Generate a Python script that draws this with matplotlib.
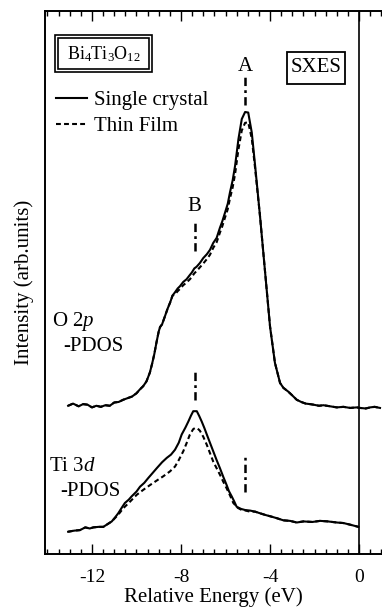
import matplotlib
matplotlib.use("Agg")
import matplotlib.pyplot as plt
from matplotlib.patches import Rectangle
from matplotlib.ticker import MultipleLocator

plt.rcParams['font.family'] = ['Liberation Serif', 'DejaVu Serif']
plt.rcParams['mathtext.fontset'] = 'custom'
plt.rcParams['mathtext.rm'] = 'Liberation Serif'
plt.rcParams['mathtext.it'] = 'Liberation Serif:italic'
plt.rcParams['axes.unicode_minus'] = False
plt.rcParams['lines.scale_dashes'] = False

# O 2p PDOS, single crystal (solid) and thin film (dashed)
o2p_energy = [-13.07, -12.85, -12.6, -12.4, -12.2, -12.0, -11.8, -11.6, -11.4, -11.2,
              -11.0, -10.8, -10.6, -10.4, -10.2, -10.0, -9.85, -9.7, -9.55, -9.4,
              -9.3, -9.2, -9.1, -9.0, -8.94, -8.85, -8.72, -8.6, -8.49, -8.38,
              -8.27, -8.15, -8.05, -7.9, -7.75, -7.6, -7.52, -7.4, -7.3, -7.15,
              -7.0, -6.84, -6.7, -6.55, -6.4, -6.25, -6.15, -6.02, -5.9, -5.8,
              -5.68, -5.57, -5.42, -5.27, -5.12, -4.98, -4.82, -4.67, -4.45, -4.22,
              -4.0, -3.78, -3.55, -3.4, -3.18, -3.0, -2.8, -2.6, -2.4, -2.2,
              -2.05, -1.8, -1.6, -1.3, -1.0, -0.7, -0.4, -0.1, 0.04, 0.3,
              0.5, 0.7, 0.94]
o2p_crystal = [27.3, 27.7, 27.2, 27.6, 27.5, 27.0, 27.3, 27.1, 27.4, 27.3,
               27.9, 28.0, 28.4, 28.7, 29.0, 29.6, 30.3, 30.9, 31.8, 33.4,
               35.0, 36.8, 39.0, 41.0, 41.8, 42.3, 43.8, 45.2, 46.3, 47.6,
               48.2, 48.9, 49.3, 50.1, 50.6, 51.4, 51.8, 52.6, 52.9, 53.6,
               54.5, 55.2, 56.0, 57.3, 58.2, 60.1, 61.2, 62.9, 64.5, 66.6,
               68.8, 71.5, 76.4, 80.1, 81.4, 81.3, 77.6, 71.5, 62.2, 51.8,
               41.9, 35.2, 31.5, 30.6, 29.9, 29.2, 28.4, 28.0, 27.7, 27.6,
               27.5, 27.3, 27.4, 27.2, 27.0, 27.1, 26.9, 27.0, 26.9, 26.8,
               27.0, 27.1, 26.9]
o2p_film = [27.3, 27.7, 27.2, 27.6, 27.5, 27.0, 27.3, 27.1, 27.4, 27.3,
            27.9, 28.0, 28.4, 28.7, 29.0, 29.6, 30.3, 30.9, 31.8, 33.4,
            35.0, 36.8, 39.0, 41.0, 41.8, 42.3, 43.8, 45.2, 46.3, 47.6,
            47.8, 48.4, 48.8, 49.5, 50.0, 50.6, 51.0, 51.7, 52.1, 52.8,
            53.5, 54.3, 55.1, 56.4, 57.4, 59.2, 60.3, 62.0, 63.5, 65.5,
            67.5, 70.0, 74.5, 78.0, 79.4, 79.5, 76.5, 71.0, 62.2, 51.8,
            41.9, 35.2, 31.5, 30.6, 29.9, 29.2, 28.4, 28.0, 27.7, 27.6,
            27.5, 27.3, 27.4, 27.2, 27.0, 27.1, 26.9, 27.0, 26.9, 26.8,
            27.0, 27.1, 26.9]

# Ti 3d PDOS
ti3d_energy = [-13.07, -12.8, -12.54, -12.3, -12.1, -11.94, -11.7, -11.49, -11.3, -11.11,
               -10.95, -10.82, -10.65, -10.52, -10.35, -10.22, -10.0, -9.84, -9.65, -9.47,
               -9.3, -9.09, -8.85, -8.64, -8.45, -8.27, -8.1, -7.97, -7.8, -7.67,
               -7.55, -7.45, -7.29, -7.18, -7.07, -6.95, -6.84, -6.7, -6.55, -6.4,
               -6.25, -6.1, -5.95, -5.85, -5.72, -5.6, -5.5, -5.3, -5.12, -4.9,
               -4.67, -4.45, -4.22, -3.95, -3.7, -3.4, -3.1, -2.8, -2.5, -2.1,
               -1.75, -1.4, -1.0, -0.7, -0.4, -0.03]
ti3d_crystal = [4.1, 4.3, 4.4, 4.9, 4.7, 4.9, 5.0, 5.0, 5.5, 6.0,
                6.8, 7.5, 8.6, 9.4, 10.0, 10.6, 11.5, 12.4, 13.1, 14.0,
                14.8, 15.8, 16.9, 17.7, 18.3, 19.2, 20.5, 22.0, 23.3, 24.4,
                25.5, 26.3, 26.3, 25.4, 24.4, 23.2, 22.0, 20.5, 18.9, 17.3,
                15.8, 14.2, 12.7, 11.6, 10.6, 9.6, 8.7, 8.3, 8.1, 8.0,
                7.8, 7.5, 7.2, 6.9, 6.6, 6.2, 6.1, 5.8, 6.0, 5.9,
                6.1, 6.0, 5.8, 5.7, 5.4, 5.0]
ti3d_film_energy = [-13.07, -12.8, -12.54, -12.3, -12.1, -11.94, -11.7, -11.49, -11.3, -11.11,
                    -10.9, -10.75, -10.6, -10.3, -9.99, -9.7, -9.39, -9.1, -8.8, -8.5,
                    -8.27, -8.1, -7.9, -7.75, -7.6, -7.45, -7.37, -7.25, -7.15, -7.0,
                    -6.84, -6.7, -6.55, -6.4, -6.25, -6.1, -5.95, -5.8, -5.65, -5.45,
                    -5.27, -5.1, -4.9, -4.67, -4.45, -4.22, -3.95, -3.7, -3.4, -3.1,
                    -2.8, -2.5, -2.1, -1.75, -1.4, -1.0, -0.7, -0.4, -0.03]
ti3d_film = [4.1, 4.3, 4.4, 4.9, 4.7, 4.9, 5.0, 5.0, 5.5, 6.0,
             6.9, 7.6, 8.4, 9.6, 10.9, 11.8, 12.7, 13.5, 14.3, 15.2,
             16.1, 17.3, 18.9, 20.4, 22.0, 23.0, 23.2, 23.1, 22.7, 21.6,
             20.1, 18.6, 17.0, 15.8, 14.6, 13.3, 12.1, 10.8, 9.4, 8.5,
             8.1, 8.0, 7.8, 7.8, 7.5, 7.2, 6.9, 6.6, 6.2, 6.1,
             5.8, 6.0, 5.9, 6.1, 6.0, 5.8, 5.7, 5.4, 5.0]

# peak markers (energy, lower and upper intensity)
mark_energy = [-5.12, -7.37, -7.37, -5.12]
mark_low = [82.7, 55.8, 28.4, 11.5]
mark_high = [88.2, 61.3, 33.9, 18.3]
peak_names = ["A", "B"]
peak_name_pos = [(-5.12, 89.7), (-7.40, 64.0)]

W, H = 382, 609
fig = plt.figure(figsize=(W / 100, H / 100), dpi=100)
ax = fig.add_axes([45 / W, 1 - 554 / H, (W - 45) / W, (554 - 11) / H])

dash = (0, (3.5, 2.3))
ax.plot(o2p_energy, o2p_film, color='black', lw=1.5, ls=dash, label='Thin Film')
ax.plot(o2p_energy, o2p_crystal, color='black', lw=1.5, label='Single crystal')
ax.plot(ti3d_film_energy, ti3d_film, color='black', lw=1.5, ls=dash)
ax.plot(ti3d_energy, ti3d_crystal, color='black', lw=1.5)

for x, y0, y1 in zip(mark_energy, mark_low, mark_high):
    ax.plot([x, x], [y0, y1], color='black', lw=1.8, ls=(0, (6, 3, 2, 3)))

for name, (x, y) in zip(peak_names, peak_name_pos):
    ax.text(x, y, name, ha='center', va='center', fontsize=15)

ax.axvline(0, color='black', lw=1.2)

ax.set_xlim(-14.11, 1.03)
ax.set_ylim(0, 100)
ax.xaxis.set_major_locator(MultipleLocator(4))
ax.xaxis.set_minor_locator(MultipleLocator(0.5))
ax.tick_params(axis='x', which='both', direction='in', top=True, bottom=True, labelsize=14, pad=11)
ax.tick_params(axis='x', which='major', length=7.5, width=1.0)
ax.tick_params(axis='x', which='minor', length=3.8, width=1.0)
ax.set_yticks([])
ax.spines['right'].set_visible(False)
for s in ['left', 'top', 'bottom']:
    ax.spines[s].set_linewidth(1.4)

ax.set_xlabel('Relative Energy (eV)', fontsize=15, labelpad=1)
ax.set_ylabel('Intensity (arb.units)', fontsize=15, labelpad=8)

handles, labels = ax.get_legend_handles_labels()
ax.legend(handles[::-1], labels[::-1], loc='upper left', bbox_to_anchor=(0.033, 0.853),
          frameon=False, fontsize=15, handlelength=1.5, handletextpad=0.3,
          labelspacing=0.3, borderpad=0, borderaxespad=0)

ax.text(-13.8, 42.8, 'O 2$p$', ha='left', va='center', fontsize=15)
ax.text(-13.3, 38.2, '-PDOS', ha='left', va='center', fontsize=15)
ax.text(-13.93, 16.1, 'Ti 3$d$', ha='left', va='center', fontsize=15)
ax.text(-13.44, 11.6, '-PDOS', ha='left', va='center', fontsize=15)


def fig_box(x0, y0, x1, y1, lw):
    fig.add_artist(Rectangle((x0 / W, 1 - y1 / H), (x1 - x0) / W, (y1 - y0) / H,
                             transform=fig.transFigure, fill=False, ec='black', lw=lw))


# double frame round the compound name
fig_box(55, 35, 152, 72, 1.2)
fig_box(58, 38, 149, 69, 1.2)
fig.text(103.5 / W, 1 - 54 / H, r'Bi$_4$Ti$_3$O$_{12}$', ha='center', va='center', fontsize=13)

fig_box(287, 52, 345, 84, 1.3)
fig.text(316 / W, 1 - 68 / H, 'SXES', ha='center', va='center', fontsize=15)

fig.savefig('out.png', dpi=100)
